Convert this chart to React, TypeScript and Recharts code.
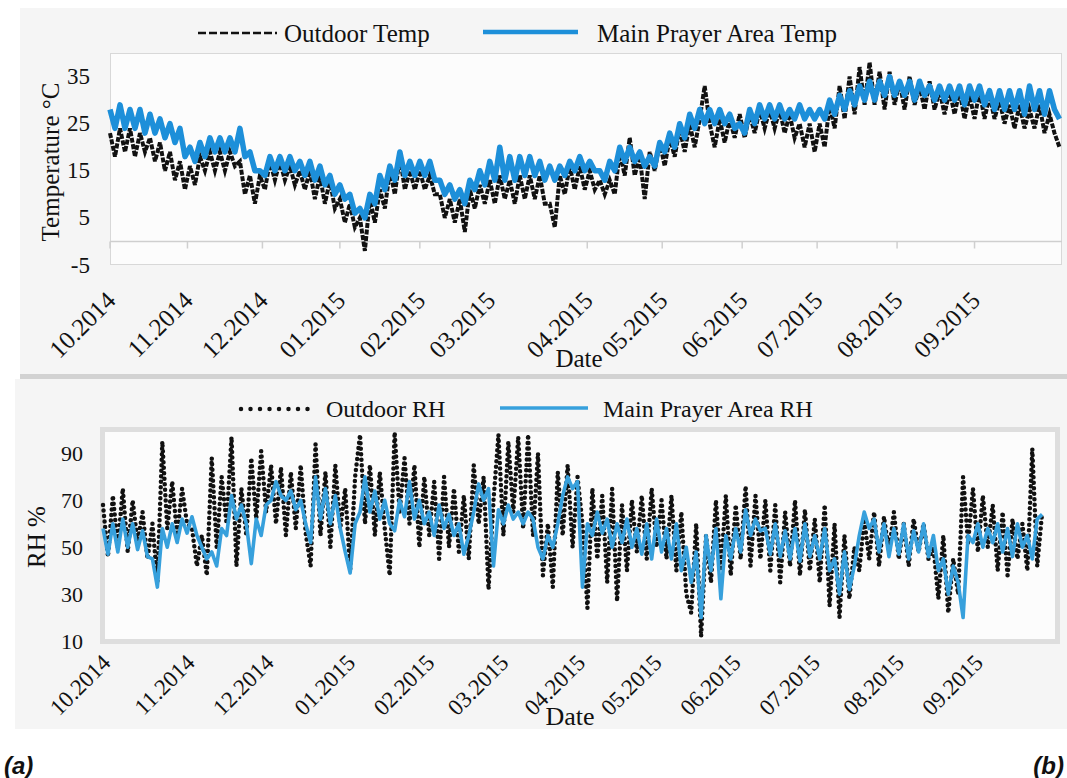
import React from 'react';
import { LineChart, Line, XAxis, YAxis, ReferenceLine } from 'recharts';

const monthLabels = ['10.2014', '11.2014', '12.2014', '01.2015', '02.2015', '03.2015', '04.2015', '05.2015', '06.2015', '07.2015', '08.2015', '09.2015'];
const topMonthTicks = [0, 31, 61, 92, 124, 152, 191, 221, 253, 283, 315, 346];
const bottomMonthTicks = [0, 34, 66, 99, 131, 161, 192, 223, 255, 287, 321, 353];
const tempTicks = [-5, 5, 15, 25, 35];
const rhTicks = [10, 30, 50, 70, 90];

// sampling day of each reading (every second day)
const sampleDays = Array.from({ length: 191 }, (_, i) => i * 2);

const outdoorTemp = [
  23, 18, 24, 19, 24, 18, 23, 19, 22, 17,
  21, 15, 19, 13, 17, 11, 16, 12, 18, 15,
  19, 15, 19, 15, 19, 16, 17, 10, 14, 8,
  14, 11, 17, 13, 17, 13, 16, 12, 15, 11,
  15, 9, 14, 8, 13, 7, 9, 4, 8, 3,
  5, -2, 9, 4, 11, 7, 15, 10, 18, 11,
  15, 11, 15, 11, 14, 10, 10, 5, 9, 4,
  9, 2, 11, 7, 12, 8, 13, 8, 14, 9,
  13, 8, 14, 9, 14, 9, 14, 8, 8, 3,
  14, 10, 16, 11, 16, 11, 15, 11, 13, 10,
  13, 10, 19, 14, 22, 14, 18, 9, 19, 15,
  21, 16, 22, 18, 24, 19, 25, 20, 26, 33,
  25, 20, 26, 21, 26, 22, 27, 22, 27, 23,
  28, 24, 28, 24, 28, 23, 27, 22, 25, 20,
  25, 19, 25, 20, 29, 24, 33, 26, 35, 27,
  37, 29, 38, 29, 36, 28, 36, 29, 34, 28,
  35, 29, 33, 28, 34, 28, 32, 27, 32, 27,
  32, 26, 31, 26, 32, 26, 31, 26, 30, 25,
  29, 24, 29, 24, 28, 24, 29, 23, 27, 23,
  20,
];

const mainTemp = [
  28, 24, 29, 24, 28, 24, 28, 23, 27, 23,
  26, 22, 25, 21, 24, 18, 20, 17, 21, 18,
  22, 19, 22, 19, 22, 19, 24, 18, 19, 15,
  15, 14, 18, 15, 18, 15, 18, 15, 17, 14,
  17, 13, 16, 12, 14, 10, 12, 9, 10, 6,
  7, 5, 10, 8, 14, 11, 16, 13, 19, 14,
  17, 14, 17, 14, 17, 13, 13, 10, 12, 9,
  11, 8, 13, 11, 15, 12, 17, 13, 20, 13,
  18, 13, 18, 14, 18, 14, 17, 13, 16, 13,
  16, 14, 17, 15, 18, 15, 17, 15, 15, 13,
  17, 15, 20, 17, 20, 17, 19, 16, 18, 16,
  21, 19, 23, 20, 25, 22, 27, 24, 28, 25,
  28, 25, 28, 25, 27, 24, 25, 23, 28, 25,
  29, 26, 29, 26, 29, 26, 28, 26, 29, 26,
  28, 26, 28, 26, 30, 27, 31, 28, 32, 29,
  33, 30, 34, 30, 34, 31, 35, 31, 34, 31,
  34, 30, 34, 31, 33, 30, 33, 30, 33, 30,
  33, 29, 33, 30, 33, 29, 32, 28, 32, 28,
  32, 28, 32, 27, 33, 28, 32, 27, 32, 28,
  26,
];

const outdoorRH = [
  68, 46, 72, 50, 75, 48, 70, 52, 65, 45,
  60, 35, 95, 58, 78, 55, 75, 60, 58, 42,
  55, 38, 88, 50, 80, 60, 97, 42, 75, 55,
  88, 62, 91, 65, 85, 60, 84, 55, 82, 58,
  85, 56, 42, 94, 55, 82, 50, 85, 58, 75,
  40, 80, 98, 60, 85, 55, 82, 58, 38, 99,
  65, 88, 60, 85, 50, 80, 55, 78, 45, 80,
  50, 75, 48, 72, 45, 85, 60, 80, 32, 70,
  98, 55, 95, 65, 97, 58, 98, 55, 90, 38,
  60, 33, 82, 55, 85, 50, 80, 60, 24, 75,
  45, 72, 35, 75, 27, 68, 40, 70, 48, 72,
  45, 75, 50, 70, 45, 72, 40, 65, 30, 22,
  60, 12, 55, 35, 70, 40, 72, 38, 68, 45,
  76, 42, 72, 45, 70, 40, 68, 35, 65, 42,
  70, 38, 66, 40, 62, 35, 68, 25, 60, 20,
  55, 28, 50, 40, 62, 45, 65, 42, 63, 48,
  65, 45, 60, 42, 62, 48, 60, 45, 50, 28,
  55, 22, 45, 30, 80, 52, 75, 48, 72, 50,
  68, 40, 65, 38, 62, 45, 60, 40, 92, 42,
  65,
];

const mainRH = [
  58, 47, 60, 48, 62, 50, 60, 49, 57, 46,
  45, 33, 58, 50, 60, 52, 62, 56, 63, 55,
  50, 45, 48, 42, 58, 55, 72, 62, 68, 60,
  43, 62, 55, 68, 70, 78, 72, 70, 74, 66,
  70, 60, 52, 80, 62, 75, 60, 72, 58, 48,
  39, 60, 65, 80, 65, 74, 62, 70, 60, 57,
  70, 63, 78, 62, 70, 60, 65, 55, 68, 58,
  64, 55, 60, 47, 55, 65, 77, 70, 75, 42,
  66, 60, 68, 62, 65, 60, 65, 62, 50, 45,
  55, 50, 60, 72, 80, 75, 78, 33, 60, 55,
  65, 56, 62, 50, 60, 52, 62, 50, 58, 47,
  60, 45, 62, 48, 58, 45, 60, 40, 50, 35,
  48, 20, 55, 40, 58, 28, 55, 45, 58, 48,
  66, 55, 62, 57, 58, 47, 60, 46, 57, 45,
  58, 44, 60, 46, 55, 45, 58, 40, 45, 30,
  48, 32, 42, 55, 65, 58, 62, 48, 60, 46,
  58, 47, 60, 45, 57, 48, 60, 46, 55, 40,
  45, 30, 42, 35, 20, 55, 52, 60, 50, 58,
  52, 60, 48, 58, 46, 60, 50, 55, 45, 62,
  64,
];

const tempData = sampleDays.map((d, i) => ({ d, out: outdoorTemp[i], main: mainTemp[i] }));
const rhData = sampleDays.map((d, i) => ({ d, out: outdoorRH[i], main: mainRH[i] }));

const serif = '"Liberation Serif", "Times New Roman", serif';
const TEMP_BLUE = '#1d8fd9';
const RH_BLUE = '#37a0dc';

const makeTick = (ticks: number[], dx: number, dy: number, size: number) => (props: any) => {
  const { x, y, payload } = props;
  const i = ticks.indexOf(payload.value);
  return (
    <g transform={`translate(${x + dx},${y + dy})`}>
      <text textAnchor="end" transform="rotate(-45)" fontFamily={serif} style={{ fontFamily: serif }} fontSize={size} fill="#111">
        {monthLabels[i]}
      </text>
    </g>
  );
};

const makeYTick = (size: number) => (props: any) => {
  const { x, y, payload } = props;
  return (
    <text x={x} y={y} textAnchor="end" dominantBaseline="central" fontFamily={serif} style={{ fontFamily: serif }} fontSize={size} fill="#111">
      {payload.value}
    </text>
  );
};

const TopTick = makeTick(topMonthTicks, 7, 37, 25);
const BottomTick = makeTick(bottomMonthTicks, 9, 23, 23);
const TopYTick = makeYTick(23);
const BottomYTick = makeYTick(22);

export default function App() {
  return (
    <div style={{ position: 'absolute', left: 0, top: 0, width: 1067, height: 778, background: '#fff', overflow: 'hidden' }}>
      {/* panel backgrounds */}
      <div style={{ position: 'absolute', left: 20, top: 8, width: 1047, height: 366, background: '#f5f5f5' }} />
      <div style={{ position: 'absolute', left: 20, top: 374, width: 1047, height: 5, background: '#d2d2d2' }} />
      <div style={{ position: 'absolute', left: 15, top: 379, width: 1052, height: 350, background: '#f5f5f5' }} />
      <div style={{ position: 'absolute', left: 110, top: 53, width: 952, height: 212, background: '#fcfcfc', border: '1px solid #d8d8d8', boxSizing: 'border-box' }} />
      <div style={{ position: 'absolute', left: 100, top: 427, width: 960, height: 217, background: '#fcfcfc', border: '5px solid #dedede', boxSizing: 'border-box' }} />

      {/* top chart */}
      <div style={{ position: 'absolute', left: 0, top: 0 }}>
        <LineChart width={1067} height={380} data={tempData} margin={{ top: 53, right: 5, left: 20, bottom: 0 }}>
          <XAxis dataKey="d" type="number" domain={[0, 381]} ticks={topMonthTicks} interval={0}
            axisLine={false} tickLine={false} tickSize={0} tickMargin={0} height={115} tick={TopTick} />
          <YAxis type="number" domain={[-5, 40]} ticks={tempTicks} interval={0} width={90}
            axisLine={false} tickLine={false} tickSize={0} tickMargin={20} tick={TopYTick} />
          <ReferenceLine y={0} stroke="#cfcfcf" strokeWidth={1.5} />
          {topMonthTicks.map((t) => (
            <ReferenceLine key={t} segment={[{ x: t, y: 0 }, { x: t, y: -1.5 }]} stroke="#cfcfcf" strokeWidth={1.5} />
          ))}
          <Line type="linear" dataKey="out" stroke="#111" strokeWidth={4} strokeDasharray="5 1.5" dot={false} isAnimationActive={false} />
          <Line type="linear" dataKey="main" stroke={TEMP_BLUE} strokeWidth={5.5} strokeLinejoin="round" dot={false} isAnimationActive={false} />
        </LineChart>
      </div>

      {/* bottom chart */}
      <div style={{ position: 'absolute', left: 0, top: 380 }}>
        <LineChart width={1067} height={398} data={rhData} margin={{ top: 50, right: 10, left: 20, bottom: 0 }}>
          <XAxis dataKey="d" type="number" domain={[0, 386]} ticks={bottomMonthTicks} interval={0}
            axisLine={false} tickLine={false} tickSize={0} tickMargin={0} height={137} tick={BottomTick} />
          <YAxis type="number" domain={[10, 100]} ticks={rhTicks} interval={0} width={83}
            axisLine={false} tickLine={false} tickSize={0} tickMargin={20} tick={BottomYTick} />
          <Line type="linear" dataKey="out" stroke="#111" strokeWidth={4.5} strokeDasharray="0 5.5" strokeLinecap="round" dot={false} isAnimationActive={false} />
          <Line type="linear" dataKey="main" stroke={RH_BLUE} strokeWidth={3.6} strokeLinejoin="round" dot={false} isAnimationActive={false} />
        </LineChart>
      </div>

      {/* text & legends overlay */}
      <svg width={1067} height={778} style={{ position: 'absolute', left: 0, top: 0, pointerEvents: 'none', fontFamily: serif }}>
        <g fontFamily={serif} fill="#111">
          <line x1={198} x2={277} y1={33} y2={33} stroke="#111" strokeWidth={2.5} strokeDasharray="8 3" />
          <text x={284} y={33} fontSize={25} dominantBaseline="central">Outdoor Temp</text>
          <line x1={483} x2={578} y1={32} y2={32} stroke={TEMP_BLUE} strokeWidth={4.5} />
          <text x={597} y={33} fontSize={25} dominantBaseline="central">Main Prayer Area Temp</text>

          <line x1={241} x2={316} y1={409} y2={409} stroke="#111" strokeWidth={4.5} strokeDasharray="0 9.5" strokeLinecap="round" />
          <text x={326} y={409} fontSize={24} dominantBaseline="central">Outdoor RH</text>
          <line x1={500} x2={588} y1={408} y2={408} stroke={RH_BLUE} strokeWidth={3.5} />
          <text x={603} y={409} fontSize={24} dominantBaseline="central">Main Prayer Area RH</text>

          <text x={0} y={0} fontSize={25} textAnchor="middle" dominantBaseline="central" transform="translate(50,162) rotate(-90)">Temperature °C</text>
          <text x={0} y={0} fontSize={25} textAnchor="middle" dominantBaseline="central" transform="translate(36,537) rotate(-90)">RH %</text>
          <text x={579} y={358} fontSize={25} textAnchor="middle" dominantBaseline="central">Date</text>
          <text x={570} y={716} fontSize={26} textAnchor="middle" dominantBaseline="central">Date</text>
        </g>
        <text x={4} y={774} fontSize={24} fontWeight="bold" fontStyle="italic" style={{ fontFamily: '"Liberation Sans", Arial, sans-serif' }} fill="#111">(a)</text>
        <text x={1064} y={774} fontSize={24} fontWeight="bold" fontStyle="italic" textAnchor="end" style={{ fontFamily: '"Liberation Sans", Arial, sans-serif' }} fill="#111">(b)</text>
      </svg>
    </div>
  );
}
